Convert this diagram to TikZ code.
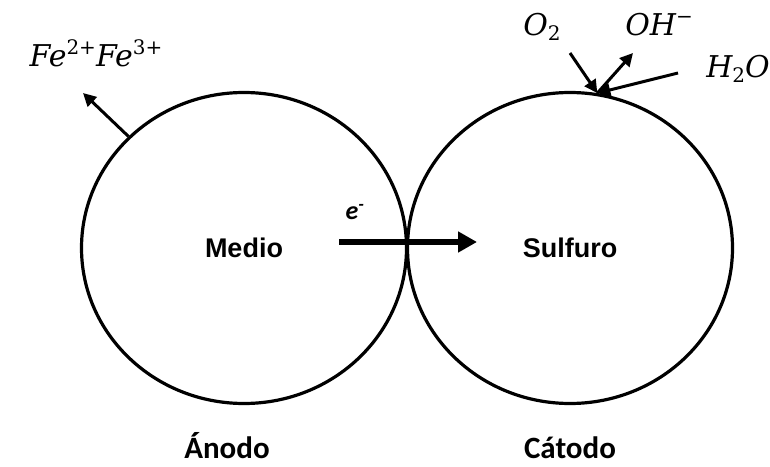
\documentclass[tikz,border=0pt]{standalone}
\usepackage{fontspec}
\setmainfont{Carlito}
\newfontfamily\arialfont{Liberation Sans}
\newfontfamily\ionfont{DejaVu Serif}
\usetikzlibrary{shapes.geometric,arrows.meta}
\newcommand\up[1]{\raisebox{12pt}{\fontsize{20}{20}\selectfont\upshape #1}}
\newcommand\dn[1]{\raisebox{-5pt}{\fontsize{20}{20}\selectfont\upshape #1}}
\tikzset{
  cell/.style={draw,ellipse,line width=3.2pt,inner sep=0pt,minimum width=325pt,minimum height=311pt,
    font=\arialfont\bfseries\fontsize{27}{30}\selectfont},
  ion/.style={anchor=base,font=\ionfont\itshape\fontsize{30}{34}\selectfont},
  pole/.style={anchor=base,font=\bfseries\fontsize{31}{36}\selectfont},
  flow/.style={line width=3pt,-{Triangle[length=13pt,width=13pt]}},
}
\begin{document}
\begin{tikzpicture}[x=1pt,y=1pt]
  \useasboundingbox (0,0) rectangle (770,466);
  \node[cell] (anodo) at (244,218) {Medio};
  \node[cell] (catodo) at (570,218) {Sulfuro};

  \node[ion] (fe) at (96,399) {Fe\up{2+}Fe\up{3+}};
  \node[ion] (o2) at (542,430) {O\dn{2}};
  \node[ion] (oh) at (659,430) {OH\up{−}};
  \node[ion] (h2o) at (738,388) {H\dn{2}O};
  \node[anchor=base,font=\bfseries\itshape\fontsize{26}{30}\selectfont] (el) at (355,246) {e\textsuperscript{-}};
  \node[pole] (an) at (227,8) {Ánodo};
  \node[pole] (ca) at (570,8) {Cátodo};

  \coordinate (feTip) at (83,373);
  \coordinate (eFrom) at (339,224);
  \coordinate (eTo) at (477,224);
  \coordinate (oFrom) at (570,413);
  \coordinate (ohTip) at (633,413);
  \coordinate (hFrom) at (678,393);

  \draw (anodo.136) edge[flow] (feTip);
  \draw (eFrom) edge[line width=5.5pt,-{Triangle[length=19pt,width=20pt]}] (eTo);
  \draw (oFrom) edge[flow] (catodo.80);
  \draw (catodo.80) edge[flow] (ohTip);
  \draw (hFrom) edge[flow] (catodo.80);
\end{tikzpicture}
\end{document}
